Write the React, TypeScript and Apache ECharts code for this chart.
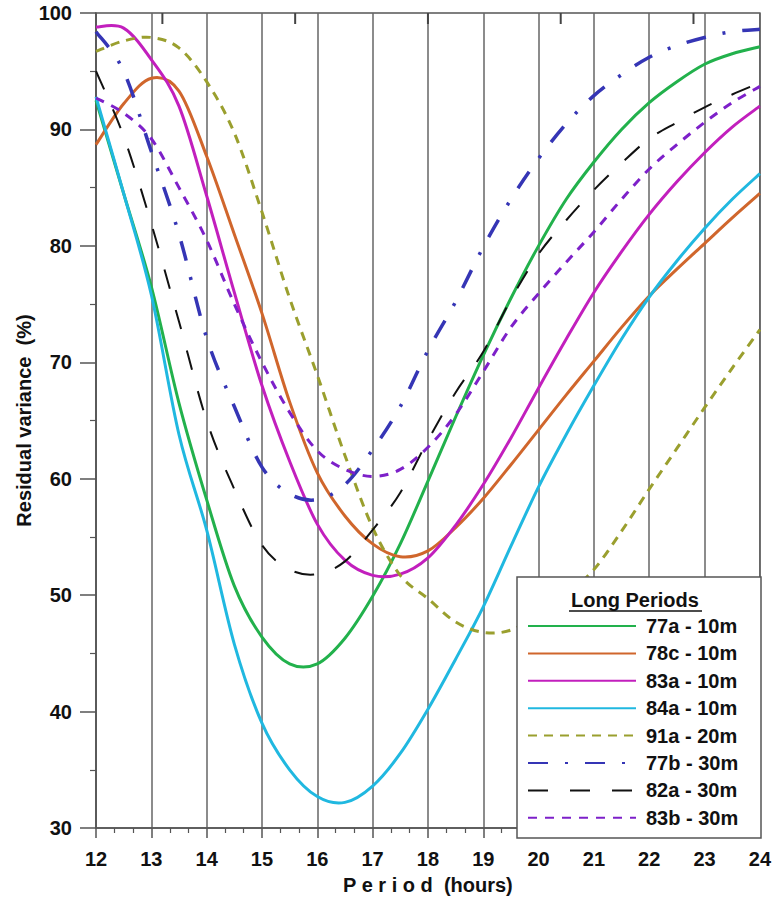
import React, { useEffect, useRef } from "react";
import * as echarts from "echarts";

const periods = [12, 12.5, 13, 13.5, 14, 14.5, 15, 15.5, 16, 16.5, 17, 17.5, 18, 18.5, 19, 19.5, 20, 20.5, 21, 21.5, 22, 22.5, 23, 23.5, 24];

const s77a = [92.5, 84.5, 76.5, 66.5, 58.2, 50.8, 46.4, 44.1, 44.1, 46.3, 49.9, 54.4, 59.8, 65.3, 70.6, 75.5, 80.0, 84.0, 87.2, 90.0, 92.3, 94.1, 95.6, 96.5, 97.1];
const s78c = [88.7, 92.2, 94.4, 93.3, 87.7, 81.0, 74.2, 66.6, 60.5, 56.8, 54.4, 53.3, 53.8, 55.8, 58.3, 61.2, 64.2, 67.2, 70.1, 73.0, 75.7, 78.0, 80.2, 82.4, 84.5];
const s83a = [98.8, 98.7, 96.0, 92.0, 84.3, 76.0, 68.0, 61.5, 56.1, 53.0, 51.7, 51.8, 53.2, 56.0, 59.5, 63.5, 67.8, 72.0, 76.0, 79.5, 82.7, 85.5, 88.0, 90.2, 92.0];
const s84a = [92.8, 84.5, 75.8, 63.8, 55.6, 45.8, 39.0, 35.0, 32.7, 32.2, 33.6, 36.4, 40.2, 44.5, 49.0, 54.2, 59.3, 63.8, 68.0, 72.0, 75.6, 78.7, 81.5, 84.0, 86.2];
const s91a = [96.7, 97.6, 97.9, 97.0, 94.1, 89.7, 82.9, 75.5, 68.9, 62.0, 55.8, 51.7, 49.7, 47.7, 46.8, 47.0, 48.4, 50.0, 52.2, 55.5, 59.1, 62.6, 66.1, 69.5, 72.8];
const s77b = [98.4, 95.0, 88.1, 81.0, 72.1, 66.2, 61.0, 58.7, 58.2, 59.5, 62.5, 66.2, 71.0, 75.2, 79.9, 84.0, 87.5, 90.5, 92.9, 94.7, 96.2, 97.2, 97.9, 98.4, 98.6];
const s82a = [95.0, 89.4, 81.9, 73.5, 65.0, 59.1, 54.3, 52.2, 51.8, 52.9, 55.6, 58.8, 63.3, 67.4, 70.9, 75.4, 79.3, 82.2, 84.8, 87.1, 89.2, 90.6, 91.9, 93.0, 94.0];
const s83b = [92.7, 91.4, 89.2, 85.0, 80.5, 75.0, 70.0, 65.7, 62.4, 60.8, 60.2, 60.8, 62.7, 65.5, 69.2, 73.0, 75.9, 78.6, 81.2, 84.0, 86.6, 88.7, 90.6, 92.3, 93.7];

const seriesNames = ["77a - 10m", "78c - 10m", "83a - 10m", "84a - 10m", "91a - 20m", "77b - 30m", "82a - 30m", "83b - 30m"];
const seriesValues = [s77a, s78c, s83a, s84a, s91a, s77b, s82a, s83b];
const seriesColors = ["#22b14c", "#d0662c", "#c21fbd", "#20b8e0", "#9a9f2e", "#3535b5", "#111111", "#7d20c9"];
const seriesDash: (number[] | null)[] = [null, null, null, null, [9, 7], [20, 17, 3, 17], [20, 22], [9, 8]];
const seriesWidth = [3, 3, 3, 3, 3, 3.5, 2, 3];

const xTicks = [12, 24, 1];
const yTicks = [30, 100, 10];
const topTicks = [13.2, 15.6, 18, 20.4, 22.8];

const FONT = "'Liberation Sans', Arial, sans-serif";

function catmullRomPath(pts: number[][]): string {
  let d = `M${pts[0][0].toFixed(2)},${pts[0][1].toFixed(2)}`;
  for (let i = 0; i < pts.length - 1; i++) {
    const p0 = pts[i - 1] || pts[i];
    const p1 = pts[i];
    const p2 = pts[i + 1];
    const p3 = pts[i + 2] || pts[i + 1];
    const c1x = p1[0] + (p2[0] - p0[0]) / 6;
    const c1y = p1[1] + (p2[1] - p0[1]) / 6;
    const c2x = p2[0] - (p3[0] - p1[0]) / 6;
    const c2y = p2[1] - (p3[1] - p1[1]) / 6;
    d += ` C${c1x.toFixed(2)},${c1y.toFixed(2)} ${c2x.toFixed(2)},${c2y.toFixed(2)} ${p2[0].toFixed(2)},${p2[1].toFixed(2)}`;
  }
  return d;
}

export default function App() {
  const ref = useRef<HTMLDivElement>(null);
  useEffect(() => {
    if (!ref.current) return;
    const chart = echarts.init(ref.current, undefined, { renderer: "svg" });
    const legendSeries = seriesNames.map((name, i) => ({
      name,
      type: "line",
      data: [],
      symbol: "none",
      lineStyle: { color: seriesColors[i], width: seriesWidth[i], type: (seriesDash[i] || "solid") as any },
      itemStyle: { color: seriesColors[i] },
    }));
    const curveSeries = seriesNames.map((name, i) => ({
      name: "curve " + name,
      type: "custom",
      coordinateSystem: "cartesian2d",
      silent: true,
      z: 2,
      data: [[periods[0], seriesValues[i][0]]],
      renderItem: (params: any, api: any) => {
        if (params.dataIndex !== 0) return null;
        const pts = periods.map((p, j) => api.coord([p, seriesValues[i][j]]));
        return {
          type: "path",
          shape: { pathData: catmullRomPath(pts) },
          style: {
            fill: "none",
            stroke: seriesColors[i],
            lineWidth: seriesWidth[i],
            lineDash: seriesDash[i] || null,
            lineCap: "butt",
          },
        };
      },
    }));
    const topTickSeries = {
      name: "top ticks",
      type: "custom",
      coordinateSystem: "cartesian2d",
      silent: true,
      z: 3,
      data: topTicks.map((v) => [v, yTicks[1]]),
      renderItem: (params: any, api: any) => {
        const p = api.coord([api.value(0), api.value(1)]);
        return {
          type: "line",
          shape: { x1: p[0], y1: p[1], x2: p[0], y2: p[1] + 11 },
          style: { stroke: "#444", lineWidth: 2 },
        };
      },
    };
    chart.setOption({
      animation: false,
      backgroundColor: "#ffffff",
      grid: { left: 96, right: 14, top: 13, bottom: 67, show: true, borderColor: "#555", borderWidth: 1.5 },
      xAxis: {
        type: "value",
        min: xTicks[0],
        max: xTicks[1],
        interval: xTicks[2],
        position: "bottom",
        name: "P e r i o d  (hours)",
        nameLocation: "middle",
        nameGap: 47,
        nameTextStyle: { fontFamily: FONT, fontWeight: "bold", fontSize: 20, color: "#111" },
        axisLine: { show: true, lineStyle: { color: "#555", width: 1.5 } },
        axisTick: { show: true, length: 10, lineStyle: { color: "#555", width: 1.5 } },
        minorTick: { show: true, splitNumber: 3, length: 5, lineStyle: { color: "#555", width: 1.2 } },
        splitLine: { show: true, lineStyle: { color: "#666", width: 1.5 } },
        axisLabel: { fontFamily: FONT, fontWeight: "bold", fontSize: 20, color: "#111", margin: 21 },
      },
      yAxis: {
        type: "value",
        min: yTicks[0],
        max: yTicks[1],
        interval: yTicks[2],
        name: "Residual variance  (%)",
        nameLocation: "middle",
        nameGap: 62,
        nameMoveOverlap: false,
        nameTextStyle: { fontFamily: FONT, fontWeight: "bold", fontSize: 20, color: "#111" },
        axisLine: { show: true, lineStyle: { color: "#555", width: 1.5 } },
        axisTick: { show: true, length: 16, lineStyle: { color: "#555", width: 1.5 } },
        minorTick: { show: true, splitNumber: 2, length: 6, lineStyle: { color: "#555", width: 1.2 } },
        splitLine: { show: false },
        axisLabel: { fontFamily: FONT, fontWeight: "bold", fontSize: 20, color: "#111", margin: 24 },
      },
      legend: {
        show: true,
        orient: "vertical",
        left: 527,
        top: 616,
        padding: 0,
        itemWidth: 108,
        itemHeight: 14,
        itemGap: 7.4,
        z: 20,
        data: seriesNames,
        itemStyle: { opacity: 0 },
        textStyle: { fontFamily: FONT, fontWeight: "bold", fontSize: 20, color: "#111", lineHeight: 20, padding: [0, 0, 0, 5] },
      },
      graphic: [
        {
          type: "rect",
          z: 15,
          shape: { x: 517, y: 577, width: 244, height: 261 },
          style: { fill: "#ffffff", stroke: "#555", lineWidth: 1.5 },
        },
        {
          type: "text",
          z: 21,
          x: 635,
          y: 600,
          style: { text: "Long Periods", fill: "#111", font: `bold 20px ${FONT}`, align: "center", verticalAlign: "middle" },
        },
        {
          type: "line",
          z: 21,
          shape: { x1: 569, y1: 611, x2: 702, y2: 611 },
          style: { stroke: "#111", lineWidth: 1.5 },
        },
      ],
      series: [...curveSeries, topTickSeries, ...legendSeries],
    });
    return () => chart.dispose();
  }, []);
  return <div ref={ref} style={{ position: "fixed", left: 0, top: 0, width: 774, height: 900 }} />;
}
